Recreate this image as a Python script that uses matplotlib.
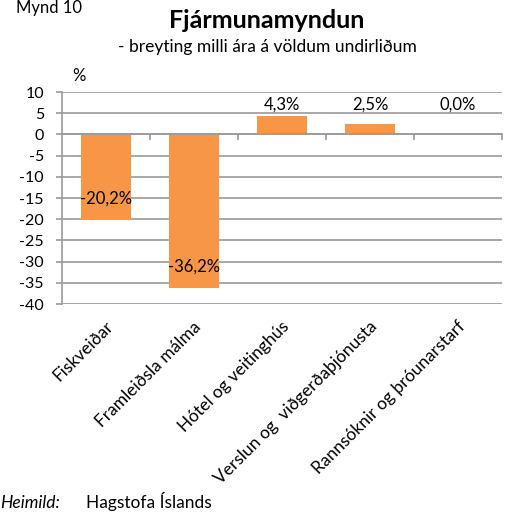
import matplotlib.pyplot as plt
import numpy as np

categories = ["Fiskveiðar", "Framleiðsla málma", "Hótel og veitinghús",
              "Verslun og  viðgerðaþjónusta", "Rannsóknir og þróunarstarf"]
values = [-20.2, -36.2, 4.3, 2.5, 0.0]
labels = ["-20,2%", "-36,2%", "4,3%", "2,5%", "0,0%"]
yticks = list(range(-40, 11, 5))

plt.rcParams["font.family"] = ["Lato", "DejaVu Sans"]

bar_color = "#F79646"
grid_color = "#9A9A9A"
fs = 12

fig = plt.figure(figsize=(5.07, 5.15), dpi=100)
ax = fig.add_axes([62 / 507, 1 - 304 / 515, 440 / 507, 212 / 515])

x = np.arange(len(categories))
ax.bar(x, values, width=0.56, color=bar_color, zorder=3)

ax.set_xlim(-0.5, len(categories) - 0.5)
ax.set_ylim(-40, 10)
ax.set_yticks(yticks)
ax.set_yticklabels([str(t) for t in yticks], fontsize=11.5)
ax.yaxis.grid(True, color=grid_color, linewidth=1.2, zorder=0)
ax.set_axisbelow(True)

for s in ["top", "right"]:
    ax.spines[s].set_visible(False)
ax.spines["left"].set_color(grid_color)
ax.spines["left"].set_linewidth(1.2)
ax.spines["bottom"].set_position(("data", 0))
ax.spines["bottom"].set_color(grid_color)
ax.spines["bottom"].set_linewidth(1.2)
ax.spines["bottom"].set_zorder(4)

ax.set_xticks(np.arange(len(categories)) + 0.5)
ax.set_xticklabels([])
ax.tick_params(axis="x", length=4, color=grid_color, width=1.2, direction="out")
ax.tick_params(axis="y", length=4, color=grid_color, width=1.2, pad=9)

# data labels
for xi, v, lab in zip(x, values, labels):
    ypos = v + 5 if v < 0 else 7
    ax.text(xi, ypos, lab, ha="center", va="center", fontsize=fs, zorder=5)

# category labels below the plot, rotated 45 degrees
for xi, cat in zip(x, categories):
    ax.text(xi + 0.05, -0.095, cat, transform=ax.get_xaxis_transform(),
            rotation=45, ha="right", va="center", rotation_mode="anchor", fontsize=12.5)

fig.text(16 / 507, 1 - 13 / 515, "Mynd 10", fontsize=fs, ha="left", va="baseline")
fig.text(267 / 507, 1 - 20 / 515, "Fjármunamyndun", fontsize=18, fontweight="bold",
         ha="center", va="center")
fig.text(267 / 507, 1 - 47 / 515, "- breyting milli ára á völdum undirliðum", fontsize=12.5,
         ha="center", va="center")
fig.text(72 / 507, 1 - 76 / 515, "%", fontsize=fs, ha="left", va="center")
fig.text(0, 1 - 508 / 515, "Heimild:", fontsize=12.5, style="italic", ha="left", va="baseline")
fig.text(86 / 507, 1 - 508 / 515, "Hagstofa Íslands", fontsize=12.5, ha="left", va="baseline")

fig.savefig("out.png", dpi=100)
